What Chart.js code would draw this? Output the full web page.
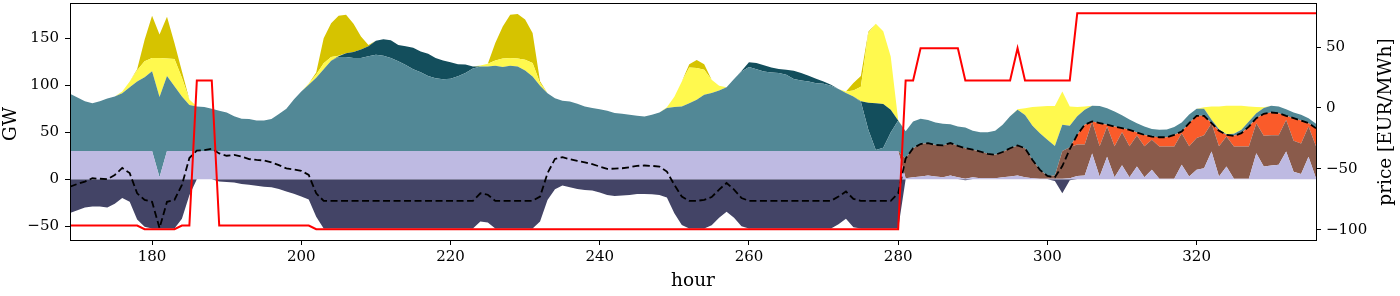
<!DOCTYPE html>
<html>
<head>
<meta charset="utf-8">
<script src="https://cdn.jsdelivr.net/npm/chart.js@4"></script>
<style>
  html, body { margin: 0; padding: 0; background: #fff; }
  #wrap { width: 1400px; height: 296px; }
</style>
</head>
<body>
<div id="wrap"><canvas id="dispatch" width="1400" height="296"></canvas></div>
<script>
// hours 169..336 (second week)
const hours = Array.from({ length: 168 }, (_, i) => 169 + i);

// GW, stacked bottom -> top
const nuclear = [
  30,30,30,30,30,30,30,30,30,30,
  30,30,2,30,30,30,30,30,30,30,
  30,30,30,30,30,30,30,30,30,30,
  30,30,30,30,30,30,30,30,30,30,
  30,30,30,30,30,30,30,30,30,30,
  30,30,30,30,30,30,30,30,30,30,
  30,30,30,30,30,30,30,30,30,30,
  30,30,30,30,30,30,30,30,30,30,
  30,30,30,30,30,30,30,30,30,30,
  30,30,30,30,30,30,30,30,30,30,
  30,30,30,30,30,30,30,30,30,30,
  30,30,1,2,3,4,3,2,4,2,
  0.5,2,1,1,1,2,3,4,2,1,
  0.5,0.5,0.5,0.5,1,3.5,4,27.5,3,24,
  2,15,2,13.5,2,10,0.5,0.5,0.5,15.3,
  3,10,11.7,29.5,3,13.5,0.5,0.5,0.5,27.7,
  13.5,14.5,15.3,29.5,8,5.6,24,1
];
const lignite = [
  0,0,0,0,0,0,0,0,0,0,
  0,0,0,0,0,0,0,0,0,0,
  0,0,0,0,0,0,0,0,0,0,
  0,0,0,0,0,0,0,0,0,0,
  0,0,0,0,0,0,0,0,0,0,
  0,0,0,0,0,0,0,0,0,0,
  0,0,0,0,0,0,0,0,0,0,
  0,0,0,0,0,0,0,0,0,0,
  0,0,0,0,0,0,0,0,0,0,
  0,0,0,0,0,0,0,0,0,0,
  0,0,0,0,0,0,0,0,0,0,
  0,0,21,31,34.5,34.5,33.5,34,34.5,33.5,
  32.5,29.5,28.5,26,25,27,30,32,31,19.5,
  9.5,3,3.5,29.5,33,33.5,33,34,32,32,
  33,35,33,33,33,32,34.3,34.3,34.3,33.7,
  32,34,35,30.2,32,32,34.3,34.3,34.3,32,
  32.7,32.4,31.6,33.5,33,32.4,32,34
];
const gas = [
  0,0,0,0,0,0,0,0,0,0,
  0,0,0,0,0,0,0,0,0,0,
  0,0,0,0,0,0,0,0,0,0,
  0,0,0,0,0,0,0,0,0,0,
  0,0,0,0,0,0,0,0,0,0,
  0,0,0,0,0,0,0,0,0,0,
  0,0,0,0,0,0,0,0,0,0,
  0,0,0,0,0,0,0,0,0,0,
  0,0,0,0,0,0,0,0,0,0,
  0,0,0,0,0,0,0,0,0,0,
  0,0,0,0,0,0,0,0,0,0,
  0,0,0,0,0,0,0,0,0,0,
  0,0,0,0,0,0,0,0,0,0,
  0,0,0,0,0,10.3,21,0,24.7,2,
  21,4.3,17.6,3.2,12.2,3.4,9.9,9.9,12.4,1.8,
  24.7,23.5,20.8,0,16.5,1.7,11.4,14.2,21.2,5.3,
  23.4,24.1,23.4,4.5,24,24.5,3.7,19.3
];
const windOnshore = [
  61,57,53,51,53,56,58,61.5,68,74,
  78.5,85,85.5,80,69,58,49,47.5,47,45,
  43,41,37,34.5,34,32.5,32.5,34,39.5,45,
  55,63.5,70.5,78,87,96,100,100,99,99,
  101,102.5,101.5,99,95.5,91.5,87,84,80,77.5,
  76.5,77,79.5,83,88,90,90,90.8,89.4,90.8,
  90,85.8,79.4,69.4,61.6,56.3,53.5,52.8,50.3,47.5,
  45.7,44.6,42.9,40.4,39.6,38.6,37.5,36.8,38.6,41,
  45.7,46.8,47.5,51,54.5,59.9,61.7,64.5,68,76.6,
  84.8,89.5,87.2,84.8,83.7,83,81.2,76.6,75.2,74.1,
  72.3,71.6,69.5,66,61.7,58,52.5,22.6,1.2,3.4,
  19.7,32.5,29,28.5,27,24.5,24,23,20,20.5,
  22,20,20.5,23,25.5,29,34,38,35.5,36.5,
  39,38.5,31.5,28,23,19.7,16,16.7,18.3,17.5,
  16,13.7,10.9,9.8,8.8,8.1,7.9,8.3,8.3,9.7,
  9.3,7.5,7.5,3.6,1.8,0.8,2.1,3.6,5.5,5.3,
  6.1,7.2,7.2,7.1,6.1,6.1,5.3,4.7
];
const windOffshore = [
  0,0,0,0,0,0,0,0,0,0,
  0,0,0,0,0,0,0,0,0,0,
  0,0,0,0,0,0,0,0,0,0,
  0,0,0,0,0,0,1,4,6.5,9,
  10.5,15,17.5,19,17.5,20,23,22,23.5,21.5,
  20,17.5,13,9,2,0,0,0,0,0,
  0,0,0,0,0,0,0,0,0,0,
  0,0,0,0,0,0,0,0,0,0,
  0,0,0,0,0,0,0,0,0,0,
  0.5,5,6.5,6.4,5.3,4.3,5.3,8.9,7.8,6.1,
  4.7,2.5,1.1,0,0,0,0.5,28.8,49.8,46.6,
  24.2,0,0,0,0,0,0,0,0,0,
  0,0,0,0,0,0,0,0,0,0,
  0,0,0,0,0,0,0,0,0,0,
  0,0,0,0,0,0,0,0,0,0,
  0,0,0,0,0,0,0,0,0,0,
  0,0,0,0,0,0,0,0
];
const solar = [
  0,0,0,0,0,0,0,2,6,12,
  17,14,41.5,18.5,29,20,6,0,0,0,
  0,0,0,0,0,0,0,0,0,0,
  0,0,1.5,3.5,6.5,4,0.5,0,0,0,
  0,0,0,0,0,0,0,0,0,0,
  0,0,0,0,0,1,3,5.7,9.2,8.2,
  8.6,11.4,14.3,3,0,0,0,0,0,0,
  0,0,0,0,0,0,0,0,0,0,
  1,11,26.5,38,34,26.6,14.2,5,0,0,
  0,0,0,0,0,0,0,0,0,0,
  0,0,0,0,1.7,6.5,15.5,74.2,84.6,77.4,
  56.7,0.5,0,0,0,0,0,0,0,0,
  0,0,0,0,0,0,0,0.5,7,20,
  28.5,36,42.5,35.5,20.5,9.8,3.5,0,0,0,
  0,0,0,0,0,0,0,0,0,0,
  0,0,1.5,14.2,24.2,30.2,29.9,25.6,16,6.7,
  0.8,0,0,0,0,0,0,0
];
const curtailed = [
  0,0,0,0,0,0,0,0,0,1,
  23,45,25,44.5,17,7,0,0,0,0,
  0,0,0,0,0,0,0,0,0,0,
  0,0,0,2,26.5,36,42.5,41,30,14,
  1.5,0,0,0,0,0,0,0,0,0,
  0,0,0,0,0,0,0,18.5,34,46,
  47.4,42.8,32,2,0,0,0,0,0,0,
  0,0,0,0,0,0,0,0,0,0,
  0,0,0,3.5,8.5,6,0,0,0,0,
  0,0,0,0,0,0,0,0,0,0,
  0,0,0,0,0,8,11.4,1.5,0,0,
  0,0,0,0,0,0,0,0,0,0,
  0,0,0,0,0,0,0,0,0,0,
  0,0,0,0,0,0,0,0,0,0,
  0,0,0,0,0,0,0,0,0,0,
  0,0,0,0,0,0,0,0,0,0,
  0,0,0,0,0,0,0,0
];
// negative side (GW)
const storage = [
  -36,-33,-30,-29,-29,-30,-26,-20,-24,-43,
  -50.5,-52.5,-52.5,-52.5,-52.5,-42,-17,0,0,0,
  -2.5,-3,-3.5,-5,-6,-7,-8,-8.5,-10.5,-13,
  -15.5,-18.5,-21.5,-40,-52.5,-52.5,-52.5,-52.5,-52.5,-52.5,
  -52.5,-52.5,-52.5,-52.5,-52.5,-52.5,-52.5,-52.5,-52.5,-52.5,
  -52.5,-52.5,-52.5,-52.5,-52.5,-45,-46,-52.5,-52.5,-52.5,
  -52.5,-52.5,-52.5,-45,-22,-10.7,-6.8,-8.5,-10.3,-11.4,
  -12,-14.2,-16.7,-17.8,-17.4,-16.7,-15.6,-15.6,-16,-16.7,
  -19.5,-36.2,-48.6,-52.5,-52.5,-52.5,-49,-41,-34.5,-41,
  -50,-52.5,-52.5,-52.5,-52.5,-52.5,-52.5,-52.5,-52.5,-52.5,
  -52.5,-52.5,-52.5,-48,-42,-51,-52.5,-52.5,-52.5,-52.5,
  -52.5,-52.5,0,0,0,0,0,0,0,0,
  -1,0,0,0,0,0,0,0,0,0,
  0,0,-2,-15,-1,0,0,0,0,0,
  0,0,0,0,0,0,0,0,0,0,
  0,0,0,0,0,0,0,0,0,0,
  0,0,0,0,0,0,0,0
];
// dashed line (GW)
const netLoad = [
  -8,-5,-2.5,1,0.5,0,4.5,12,6.5,-15,
  -22,-24,-52,-24,-22,-6,22.5,30.5,31,32.5,
  27.5,25,26,24,21.5,20.5,20,18,15,11.5,
  10.5,9,4.5,-15,-23,-23,-23,-23,-23,-23,
  -23,-23,-23,-23,-23,-23,-23,-23,-23,-23,
  -23,-23,-23,-23,-23,-15,-16.5,-23,-23,-23,
  -23,-23,-23,-18.5,6.4,21.6,23.4,21.3,19.5,18,
  16,13.5,11,11.3,11.7,12.8,14.2,14.6,14.2,13.5,
  8.1,-6,-18.5,-23,-23,-22,-19,-11,-4,-11,
  -20,-23,-23,-23,-23,-23,-23,-23,-23,-23,
  -23,-23,-23,-18.5,-13,-21,-23,-23,-23,-23,
  -23,-15,22,33,37.5,38.5,36.5,36,38.5,35.5,
  33,31.5,29.5,27,26,29,33,36,33,20.5,
  10,3.5,2,14,32,47.3,58,61.5,59.7,58,
  56,54.3,52.6,49.7,47.2,45.4,44.7,44.7,47.2,50.8,
  59.7,67.5,67.5,59.7,51.5,47.2,46.2,49,56,65,
  69.6,71,70.3,67.5,65,62.5,59.7,54.3
];
// EUR/MWh, right axis
const price = [
  -96.5,-96.5,-96.5,-96.5,-96.5,-96.5,-96.5,-96.5,-96.5,-96.5,
  -99.5,-99.5,-99.5,-99.5,-99.5,-96.5,-96.5,22.6,22.6,22.6,
  -96.5,-96.5,-96.5,-96.5,-96.5,-96.5,-96.5,-96.5,-96.5,-96.5,
  -96.5,-96.5,-96.5,-99.5,-99.5,-99.5,-99.5,-99.5,-99.5,-99.5,
  -99.5,-99.5,-99.5,-99.5,-99.5,-99.5,-99.5,-99.5,-99.5,-99.5,
  -99.5,-99.5,-99.5,-99.5,-99.5,-99.5,-99.5,-99.5,-99.5,-99.5,
  -99.5,-99.5,-99.5,-99.5,-99.5,-99.5,-99.5,-99.5,-99.5,-99.5,
  -99.5,-99.5,-99.5,-99.5,-99.5,-99.5,-99.5,-99.5,-99.5,-99.5,
  -99.5,-99.5,-99.5,-99.5,-99.5,-99.5,-99.5,-99.5,-99.5,-99.5,
  -99.5,-99.5,-99.5,-99.5,-99.5,-99.5,-99.5,-99.5,-99.5,-99.5,
  -99.5,-99.5,-99.5,-99.5,-99.5,-99.5,-99.5,-99.5,-99.5,-99.5,
  -99.5,-99.5,22.6,22.6,49,49,49,49,49,49,
  22.6,22.6,22.6,22.6,22.6,22.6,22.6,49,22.6,22.6,
  22.6,22.6,22.6,22.6,22.6,77.6,77.6,77.6,77.6,77.6,
  77.6,77.6,77.6,77.6,77.6,77.6,77.6,77.6,77.6,77.6,
  77.6,77.6,77.6,77.6,77.6,77.6,77.6,77.6,77.6,77.6,
  77.6,77.6,77.6,77.6,77.6,77.6,77.6,77.6
];

const hourTicks = [180, 200, 220, 240, 260, 280, 300, 320];
const gwTicks = [-50, 0, 50, 100, 150];
const priceTicks = [-100, -50, 0, 50];

const serif = '"DejaVu Serif", "Liberation Serif", serif';
const minus = v => String(v).replace('-', '\u2212');

const area = (label, data, color, fill) => ({
  label, data, fill,
  backgroundColor: color,
  borderColor: color,
  borderWidth: 0,
  pointRadius: 0,
  tension: 0,
  stack: 'gen',
  order: 3,
  yAxisID: 'y'
});

const frame = {
  id: 'frame',
  afterDraw(chart) {
    const { ctx, chartArea: a } = chart;
    ctx.save();
    ctx.strokeStyle = '#000';
    ctx.lineWidth = 1;
    ctx.strokeRect(Math.round(a.left) + 0.5, Math.round(a.top) + 0.5,
      Math.round(a.right - a.left), Math.round(a.bottom - a.top));
    ctx.fillStyle = '#000';
    ctx.font = '18.5px ' + serif;
    ctx.textAlign = 'center';
    ctx.textBaseline = 'alphabetic';
    ctx.fillText('hour', (a.left + a.right) / 2, 286);
    ctx.save();
    ctx.translate(15.5, 124);
    ctx.rotate(-Math.PI / 2);
    ctx.fillText('GW', 0, 0);
    ctx.restore();
    ctx.save();
    ctx.translate(1390.5, 122);
    ctx.rotate(-Math.PI / 2);
    ctx.fillText('price [EUR/MWh]', 0, 0);
    ctx.restore();
    ctx.restore();
  }
};

const tickFont = { family: serif, size: 15 };
const axisGrid = { drawOnChartArea: false, color: '#000', tickColor: '#000', tickLength: 5 };

new Chart(document.getElementById('dispatch'), {
  type: 'line',
  data: {
    labels: hours,
    datasets: [
      area('nuclear', nuclear, '#bebae2', 'origin'),
      area('lignite', lignite, '#8a5b4b', '-1'),
      area('gas', gas, '#fa5b2a', '-1'),
      area('onshore wind', windOnshore, '#528896', '-1'),
      area('offshore wind', windOffshore, '#134e5c', '-1'),
      area('solar', solar, '#fff94e', '-1'),
      area('curtailment', curtailed, '#d6c300', '-1'),
      Object.assign(area('storage', storage, '#434466', 'origin'), { stack: 'neg' }),
      {
        label: 'net', data: netLoad, stack: 'net', order: 1, yAxisID: 'y',
        borderColor: '#000', borderWidth: 1.8, borderDash: [7, 3.5],
        pointRadius: 0, tension: 0, fill: false
      },
      {
        label: 'price', data: price, order: 0, yAxisID: 'y1',
        borderColor: '#ff0000', borderWidth: 2,
        pointRadius: 0, tension: 0, fill: false
      }
    ]
  },
  options: {
    responsive: false,
    animation: false,
    devicePixelRatio: 1,
    layout: { padding: { top: 3, left: 0, right: 0, bottom: 0 } },
    plugins: { legend: { display: false }, tooltip: { enabled: false } },
    scales: {
      x: {
        type: 'linear', min: 169, max: 336,
        afterBuildTicks: s => { s.ticks = hourTicks.map(v => ({ value: v })); },
        afterFit: s => { s.height = 56; s.paddingLeft = 0; s.paddingRight = 0; },
        ticks: { font: tickFont, color: '#000', padding: 3, maxRotation: 0, autoSkip: false },
        grid: axisGrid,
        border: { display: true, color: '#000' }
      },
      y: {
        type: 'linear', position: 'left', stacked: true, min: -64.7, max: 187.6,
        afterBuildTicks: s => { s.ticks = gwTicks.map(v => ({ value: v })); },
        afterFit: s => { s.width = 70; s.paddingTop = 0; s.paddingBottom = 0; },
        ticks: { font: tickFont, color: '#000', padding: 6, callback: minus },
        grid: axisGrid,
        border: { display: true, color: '#000' }
      },
      y1: {
        type: 'linear', position: 'right', min: -108.3, max: 86.1,
        afterBuildTicks: s => { s.ticks = priceTicks.map(v => ({ value: v })); },
        afterFit: s => { s.width = 84; s.paddingTop = 0; s.paddingBottom = 0; },
        ticks: { font: tickFont, color: '#000', padding: 5, callback: minus },
        grid: axisGrid,
        border: { display: true, color: '#000' }
      }
    }
  },
  plugins: [frame]
});
</script>
</body>
</html>
